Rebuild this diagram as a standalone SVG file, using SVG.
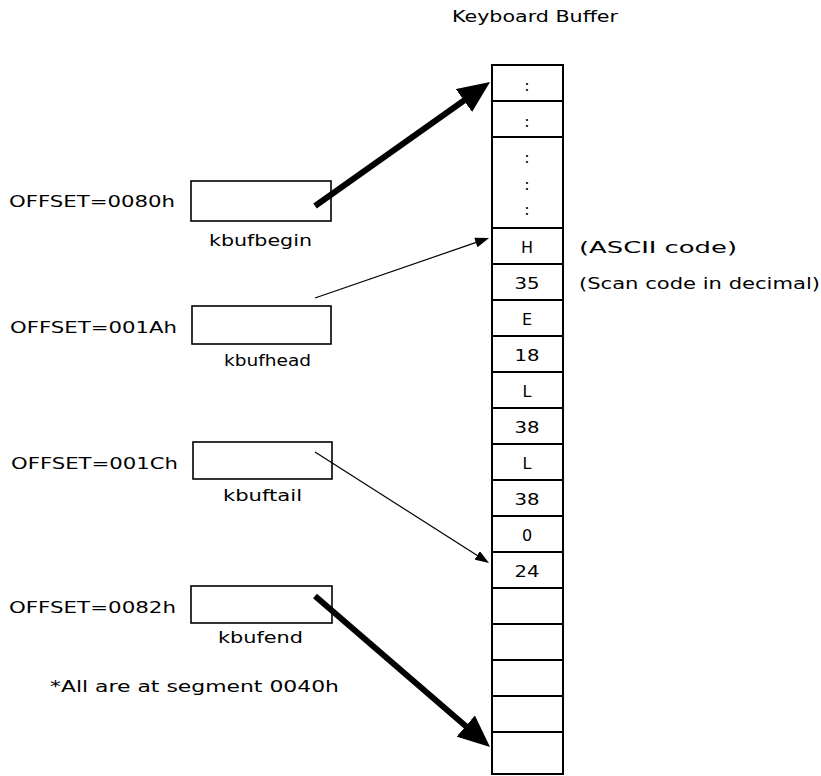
<svg xmlns="http://www.w3.org/2000/svg" width="821" height="776" viewBox="0 0 821 776">
<style>
text{font-family:"DejaVu Sans","Verdana",sans-serif;font-size:16px;fill:#000}
.c{text-anchor:middle}
.cell{fill:#fff;stroke:#000;stroke-width:2}
.box{fill:#fff;stroke:#000;stroke-width:1.6}
.thick{stroke:#000;stroke-width:6;fill:none}
.thin{stroke:#000;stroke-width:1.2;fill:none}
</style>
<defs>
<marker id="ahThick" viewBox="0 0 32 28" refX="4" refY="14" markerWidth="32" markerHeight="28" markerUnits="userSpaceOnUse" orient="auto"><path d="M0,0 L32,14 L0,28 z" fill="#000"/></marker>
<marker id="ahThin" viewBox="0 0 14 10" refX="2" refY="5" markerWidth="14" markerHeight="10" markerUnits="userSpaceOnUse" orient="auto"><path d="M0,0 L14,5 L0,10 z" fill="#000"/></marker>
</defs>
<rect width="821" height="776" fill="#fff"/>
<text x="452" y="22" textLength="166" lengthAdjust="spacingAndGlyphs">Keyboard Buffer</text>
<g id="buffer">
<rect class="cell" x="492" y="65" width="71" height="36"/>
<rect class="cell" x="492" y="101" width="71" height="36"/>
<rect class="cell" x="492" y="137" width="71" height="91"/>
<rect class="cell" x="492" y="228" width="71" height="36"/>
<rect class="cell" x="492" y="264" width="71" height="36"/>
<rect class="cell" x="492" y="300" width="71" height="36"/>
<rect class="cell" x="492" y="336" width="71" height="36"/>
<rect class="cell" x="492" y="372" width="71" height="36"/>
<rect class="cell" x="492" y="408" width="71" height="36"/>
<rect class="cell" x="492" y="444" width="71" height="36"/>
<rect class="cell" x="492" y="480" width="71" height="36"/>
<rect class="cell" x="492" y="516" width="71" height="36"/>
<rect class="cell" x="492" y="552" width="71" height="36"/>
<rect class="cell" x="492" y="588" width="71" height="36"/>
<rect class="cell" x="492" y="624" width="71" height="36"/>
<rect class="cell" x="492" y="660" width="71" height="36"/>
<rect class="cell" x="492" y="696" width="71" height="36"/>
<rect class="cell" x="492" y="732" width="71" height="42"/>
<text class="c" x="527" y="91">:</text>
<text class="c" x="527" y="127">:</text>
<text class="c" x="527" y="163">:</text>
<text class="c" x="527" y="190">:</text>
<text class="c" x="527" y="215">:</text>
<text class="c" x="527" y="253">H</text>
<text class="c" x="527" y="289" textLength="25" lengthAdjust="spacingAndGlyphs">35</text>
<text class="c" x="527" y="325">E</text>
<text class="c" x="527" y="361" textLength="25" lengthAdjust="spacingAndGlyphs">18</text>
<text class="c" x="527" y="397">L</text>
<text class="c" x="527" y="433" textLength="25" lengthAdjust="spacingAndGlyphs">38</text>
<text class="c" x="527" y="469">L</text>
<text class="c" x="527" y="505" textLength="25" lengthAdjust="spacingAndGlyphs">38</text>
<text class="c" x="527" y="541">0</text>
<text class="c" x="527" y="577" textLength="25" lengthAdjust="spacingAndGlyphs">24</text>
</g>
<text x="579" y="253" textLength="158" lengthAdjust="spacingAndGlyphs">(ASCII code)</text>
<text x="579" y="289" textLength="241" lengthAdjust="spacingAndGlyphs">(Scan code in decimal)</text>
<g id="kbufbegin">
<text x="9" y="207" textLength="166" lengthAdjust="spacingAndGlyphs">OFFSET=0080h</text>
<rect class="box" x="191" y="181" width="140" height="40"/>
<text x="209" y="246" textLength="103" lengthAdjust="spacingAndGlyphs">kbufbegin</text>
</g>
<g id="kbufhead">
<text x="10" y="333" textLength="167" lengthAdjust="spacingAndGlyphs">OFFSET=001Ah</text>
<rect class="box" x="192" y="306" width="139" height="38"/>
<text x="224" y="366" textLength="87" lengthAdjust="spacingAndGlyphs">kbufhead</text>
</g>
<g id="kbuftail">
<text x="11" y="469" textLength="167" lengthAdjust="spacingAndGlyphs">OFFSET=001Ch</text>
<rect class="box" x="193" y="442" width="139" height="37"/>
<text x="223" y="501" textLength="79" lengthAdjust="spacingAndGlyphs">kbuftail</text>
</g>
<g id="kbufend">
<text x="9" y="613" textLength="167" lengthAdjust="spacingAndGlyphs">OFFSET=0082h</text>
<rect class="box" x="191" y="586" width="141" height="37"/>
<text x="218" y="643" textLength="85" lengthAdjust="spacingAndGlyphs">kbufend</text>
</g>
<text x="50" y="692" textLength="289" lengthAdjust="spacingAndGlyphs">*All are at segment 0040h</text>
<g id="connectors">
<line class="thick" x1="315" y1="206" x2="467.2" y2="98.2" marker-end="url(#ahThick)"/>
<line class="thin" x1="315" y1="298" x2="477.7" y2="241.9" marker-end="url(#ahThin)"/>
<line class="thin" x1="315" y1="452" x2="478.9" y2="556.5" marker-end="url(#ahThin)"/>
<line class="thick" x1="315" y1="596" x2="468.8" y2="728.7" marker-end="url(#ahThick)"/>
</g>
</svg>
